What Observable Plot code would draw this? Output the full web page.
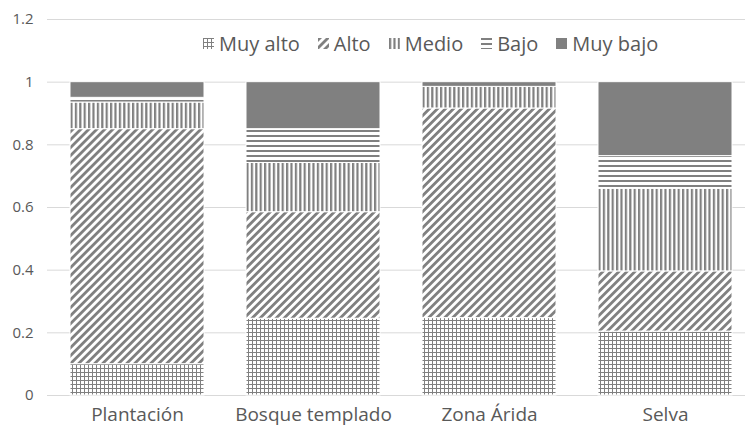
<!DOCTYPE html>
<html>
<head>
<meta charset="utf-8">
<script src="https://cdn.jsdelivr.net/npm/d3@7"></script>
<script src="https://cdn.jsdelivr.net/npm/@observablehq/plot@0.6"></script>
<style>
  html, body { margin: 0; padding: 0; background: #fff; }
  #wrap { position: relative; width: 748px; height: 431px; font-family: "Open Sans", sans-serif; color: #595959; }
  #legend { position: absolute; top: 30px; left: 203px; display: flex; align-items: center; font-size: 20px; white-space: nowrap; }
  #legend .item { display: flex; align-items: center; margin-right: 18px; }
  #legend svg { margin-right: 5px; }
</style>
</head>
<body>
<svg width="0" height="0" style="position:absolute">
  <defs>
    <pattern id="pat-muyalto" patternUnits="userSpaceOnUse" width="4" height="4">
      <rect width="4" height="4" fill="#fff"/>
      <path d="M0.5,0V4M0,0.5H4" stroke="#808080" stroke-width="1"/>
    </pattern>
    <pattern id="pat-alto" patternUnits="userSpaceOnUse" width="5.66" height="5.66" patternTransform="rotate(45)">
      <rect width="5.66" height="5.66" fill="#fff"/>
      <rect width="2.8" height="5.66" fill="#808080"/>
    </pattern>
    <pattern id="pat-medio" patternUnits="userSpaceOnUse" width="4.4" height="4">
      <rect width="4.4" height="4" fill="#fff"/>
      <rect width="2.2" height="4" fill="#808080"/>
    </pattern>
    <pattern id="pat-bajo" patternUnits="userSpaceOnUse" width="4" height="5">
      <rect width="4" height="5" fill="#fff"/>
      <rect width="4" height="2" fill="#808080"/>
    </pattern>
    <pattern id="pat-muybajo" patternUnits="userSpaceOnUse" width="4" height="4">
      <rect width="4" height="4" fill="#808080"/>
    </pattern>
  </defs>
</svg>
<div id="wrap">
  <div id="chart"></div>
  <div id="legend"></div>
</div>
<script>
const categories = ["Plantación", "Bosque templado", "Zona Árida", "Selva"];
const series = ["Muy alto", "Alto", "Medio", "Bajo", "Muy bajo"];
const muyAlto = [0.10, 0.245, 0.247, 0.204];
const alto    = [0.75, 0.34, 0.669, 0.192];
const medio   = [0.085, 0.157, 0.069, 0.264];
const bajo    = [0.015, 0.108, 0, 0.104];
const muyBajo = [0.05, 0.15, 0.015, 0.236];
const yTicks = [0, 0.2, 0.4, 0.6, 0.8, 1, 1.2];
const patterns = ["url(#pat-muyalto)", "url(#pat-alto)", "url(#pat-medio)", "url(#pat-bajo)", "url(#pat-muybajo)"];

const valuesBySeries = [muyAlto, alto, medio, bajo, muyBajo];
const rows = [];
series.forEach((s, si) => {
  categories.forEach((c, ci) => {
    const v = valuesBySeries[si][ci];
    if (v > 0) rows.push({cat: c, series: s, value: v, pattern: patterns[si]});
  });
});

const chart = Plot.plot({
  width: 748,
  height: 431,
  marginLeft: 47,
  marginRight: 3,
  marginTop: 19,
  marginBottom: 36,
  style: {fontFamily: "'Open Sans', sans-serif", color: "#595959", background: "#fff"},
  x: {domain: categories, range: [47, 754], paddingInner: 0.24, paddingOuter: 0.12},
  y: {domain: [0, 1.2]},
  color: {type: "identity"},
  marks: [
    Plot.ruleY(yTicks, {stroke: "#d9d9d9", strokeWidth: 1}),
    Plot.barY(rows, {x: "cat", y: "value", fill: "pattern", stroke: "#fff", strokeWidth: 1}),
    Plot.axisY({ticks: yTicks, tickFormat: d => String(d), tickSize: 0, tickPadding: 14, fontSize: 15, label: null, fill: "#595959"}),
    Plot.axisX({tickSize: 0, tickPadding: 12, fontSize: 19, label: null, fill: "#595959"})
  ]
});
document.getElementById("chart").appendChild(chart);

const legend = d3.select("#legend");
series.forEach((s, i) => {
  const item = legend.append("div").attr("class", "item");
  const sw = item.append("svg").attr("width", 11).attr("height", 11);
  sw.append("rect").attr("width", 11).attr("height", 11).attr("fill", patterns[i]);
  item.append("span").text(s);
});
</script>
</body>
</html>
